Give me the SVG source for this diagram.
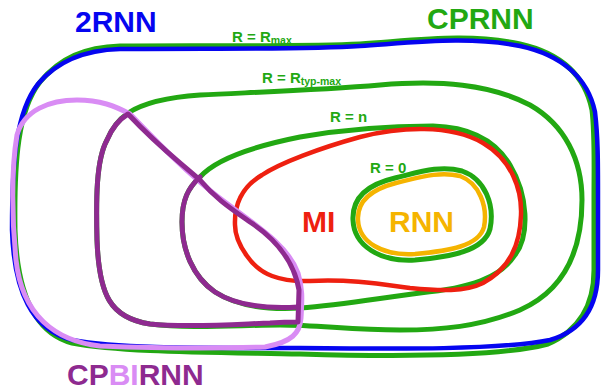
<svg xmlns="http://www.w3.org/2000/svg" width="603" height="391" viewBox="0 0 603 391">
<style>
.l{fill:none;stroke-linejoin:round;stroke-linecap:round}
.g{stroke:#22a812;stroke-width:5}
.b{stroke:#0505f0;stroke-width:4.5}
.r{stroke:#ee2010;stroke-width:4.5}
.y{stroke:#f5b400;stroke-width:4.5}
.dp{stroke:#8e2a90;stroke-width:5}
.lp{stroke:#d98cf4;stroke-width:5}
text{font-family:"Liberation Sans",Arial,sans-serif;font-weight:bold}
.big{font-size:30px}
.sm{font-size:15px;fill:#22a812}
.sub{font-size:10.5px}
</style>
<rect width="603" height="391" fill="#fff"/>
<g id="cprnn">
<path class="l g" d="M 15,230 C 14,160 18,110 40,82 C 60,58 85,47 120,46 C 200,45 300,47 360,44 C 420,40 470,33 520,44 C 560,53 585,75 592,110 C 595,135 594,160 594,200 L 594,270 C 594,305 580,330 548,344 C 500,357 400,357 300,354 C 200,352 120,352 72,343 C 34,333 17,292 15,230 Z"/>
</g>
<g id="rnn2">
<path class="l b" d="M 12,230 C 12,160 16,112 38,84 C 58,60 85,50 120,49 C 200,48 300,50 360,46 C 420,42 470,36 520,46 C 562,55 588,78 595,112 C 598,137 598,160 598,200 L 598,270 C 598,305 584,330 550,340 C 500,350 400,349 300,348 C 200,348 120,349 72,340 C 32,330 14,292 12,230 Z"/>
</g>
<g id="r-typmax">
<path class="l g" d="M 128,113 C 145,102 170,97 200,95 C 260,92 320,90 380,85 C 440,80 490,84 530,105 C 565,125 582,160 582,200 C 582,250 565,290 520,310 C 480,327 440,330 400,330 C 350,330 320,325 280,325 C 240,325 190,329 150,324 C 110,318 99,295 97,240 C 96,200 96,160 107,140 C 112,128 118,120 128,113 Z"/>
</g>
<g id="r-n">
<path class="l g" d="M 200,177 C 215,160 250,147 300,137 C 340,130 390,126 433,126 C 470,127 495,140 510,165 C 528,195 530,235 515,255 C 500,278 470,288 420,293 C 380,298 340,305 300,308 C 265,310 235,305 215,292 C 193,277 182,250 182,222 C 182,200 188,188 200,177 Z"/>
</g>
<g id="r-0">
<path class="l g" d="M 353,220 C 352,199 365,185 395,178 C 420,172 440,165 462,171 C 485,179 495,205 490,229 C 484,251 450,257 415,260 C 380,262 354,246 353,220 Z"/>
</g>
<g id="rnn">
<path class="l y" d="M 358,220 C 357,203 369,190 396,183 C 421,177 440,171 460,176 C 479,183 488,206 484,227 C 479,246 449,251 415,254 C 382,256 359,242 358,220 Z"/>
</g>
<g id="mi">
<path class="l r" d="M 235,225 C 234,200 245,185 262,175 C 280,163 320,148 360,137 C 400,127 450,124 483,143 C 512,160 522,190 521,215 C 520,245 510,268 483,283 C 465,292 440,291 410,288 C 380,284 350,279 310,281 C 280,282 260,275 247,256 C 239,245 235,235 235,225 Z"/>
</g>
<g id="cpbirnn-light">
<path class="l lp" d="M 130,114 C 162,147 187,173 217,196 C 252,223 287,243 298,273 C 303,290 302,300 301,318 C 300,333 292,342 265,347 C 210,349 150,348 100,346 C 55,341 22,315 16,260 C 12,220 11,170 17,135 C 24,110 50,100 77,100 C 100,100 115,106 130,114 Z"/>
</g>
<g id="cpbirnn-dark">
<path class="l dp" d="M 128,114 C 118,120 112,128 107,140 C 96,160 96,200 97,240 C 99,295 110,318 150,324 C 190,328 240,324 270,323 C 285,322 293,322 298,322 L 299,290 C 296,272 285,245 250,222 C 230,208 215,198 200,180 C 175,158 160,148 128,114 Z"/>
<path class="l dp" d="M 200,177 C 188,188 182,200 182,222 C 182,250 193,277 215,292 C 235,305 265,309 298,307"/>
</g>
<g id="labels">
<text class="big" x="75" y="32" fill="#0505f0">2RNN</text>
<text class="big" x="427" y="29" fill="#22a812">CPRNN</text>
<text class="sm" x="232" y="42">R = R<tspan class="sub" dy="1.5">max</tspan></text>
<text class="sm" x="262" y="83">R = R<tspan class="sub" dy="1.5">typ-max</tspan></text>
<text class="sm" x="330" y="122">R = n</text>
<text class="sm" x="370" y="173">R = 0</text>
<text class="big" x="302" y="232" fill="#ee2010">MI</text>
<text class="big" x="389" y="232" fill="#f5b400">RNN</text>
<text class="big" x="67" y="385" font-size="29" fill="#8e2a90">CP<tspan fill="#d98cf4">BI</tspan>RNN</text>
</g>
</svg>
